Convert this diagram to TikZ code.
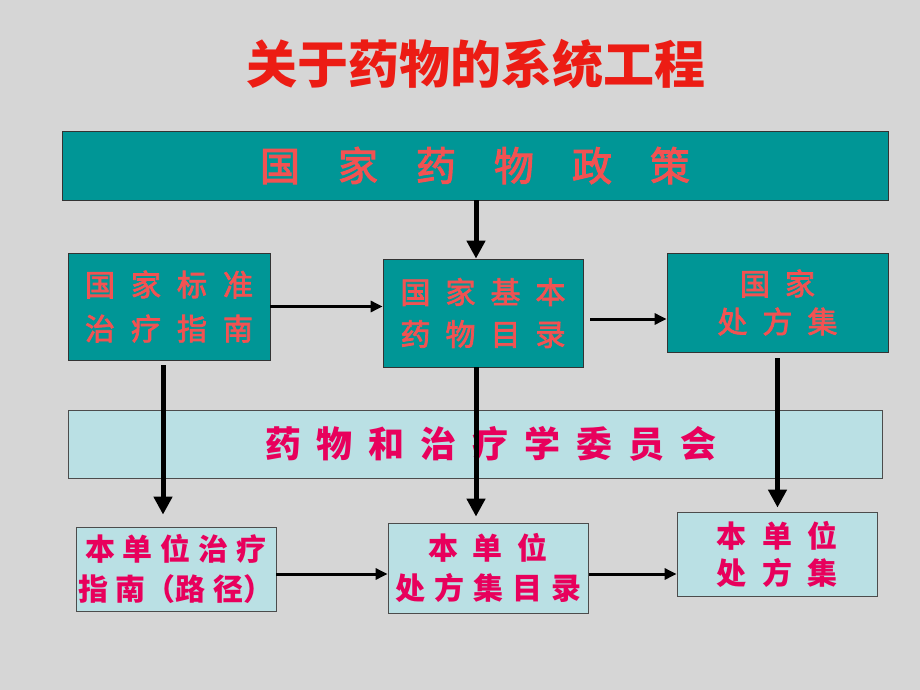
\documentclass[tikz,border=0pt]{standalone}
\usepackage{fontspec}
\newfontfamily\cjk{Noto Sans CJK SC}
\newfontfamily\cjkm{Noto Sans CJK SC}[FakeBold=2.5]
\usetikzlibrary{arrows.meta}
\definecolor{bgGray}{RGB}{214,214,214}
\definecolor{tealFill}{RGB}{0,150,150}
\definecolor{paleFill}{RGB}{186,224,228}
\definecolor{salmonRed}{RGB}{242,82,82}
\definecolor{deepPink}{RGB}{232,0,92}
\definecolor{titleRed}{RGB}{236,28,20}

\tikzset{
  tealbox/.style={draw=black!80, line width=0.8pt, fill=tealFill, text=salmonRed, inner sep=0pt, align=center},
  palebox/.style={draw=black!70, line width=0.8pt, fill=paleFill, text=deepPink, inner sep=0pt, align=center},
  varrow/.style={line width=5pt, -{Triangle[width=18pt,length=18pt]}},
  harrow/.style={line width=3pt, -{Triangle[width=11pt,length=12pt]}},
}

\begin{document}
\begin{tikzpicture}[x=1pt,y=-1pt]
\fill[bgGray] (0,0) rectangle (920,690);
\useasboundingbox (0,0) rectangle (920,690);
%
\node[text=titleRed, font=\cjk\bfseries\fontsize{51}{51}\selectfont] (title) at (476,64) {关于药物的系统工程};
%
\node[tealbox, minimum width=826pt, minimum height=69pt, font={\cjkm\fontsize{40}{48}\selectfont\spaceskip=38pt\relax}] (policy) at (475,165.5) {国 家 药 物 政 策};
\node[tealbox, minimum width=202pt, minimum height=107pt, font={\cjkm\fontsize{30}{44}\selectfont\spaceskip=16pt\relax}] (std) at (169,306.5) {国 家 标 准\\治 疗 指 南};
\node[tealbox, minimum width=200pt, minimum height=108pt, font={\cjkm\fontsize{30}{42}\selectfont\spaceskip=15pt\relax}] (ess) at (483,313) {国 家 基 本\\药 物 目 录};
\node[tealbox, minimum width=221pt, minimum height=99pt, font={\cjkm\fontsize{30}{38}\selectfont\spaceskip=15pt\relax}] (natf) at (777.5,302.5) {国 家\\处 方 集};
%
\node[palebox, minimum width=814pt, minimum height=68pt, font={\cjk\bfseries\fontsize{36}{40}\selectfont\spaceskip=16pt\relax}] (ctc) at (475,444) {\hspace*{32pt}药 物 和 治 疗 学 委 员 会};
%
\node[palebox, minimum width=200pt, minimum height=84pt, font={\cjk\bfseries\fontsize{30}{40}\selectfont\spaceskip=8pt\relax}] (bl) at (176,569) {本 单 位 治 疗\\指 南（路 径）};
\node[palebox, minimum width=200pt, minimum height=90pt, font={\cjk\bfseries\fontsize{30}{40}\selectfont\spaceskip=9pt\relax}] (bm) at (488,568) {本\hspace{15pt}单\hspace{15pt}位\\处 方 集 目 录};
\node[palebox, minimum width=200pt, minimum height=84pt, font={\cjk\bfseries\fontsize{30}{37}\selectfont\spaceskip=16pt\relax}] (br) at (777,554) {本 单 位\\处 方 集};
%
\draw[varrow] ([xshift=-7pt]ess.north |- policy.south) -- ([xshift=-7pt]ess.north);
\draw[varrow, shorten <=5pt, shorten >=12pt] ([xshift=-6pt]std.south) -- ([xshift=-6pt]std.south |- bl.north);
\draw[varrow, shorten >=6pt] ([xshift=-7pt]ess.south) -- ([xshift=-7pt]ess.south |- bm.north);
\draw[varrow, shorten <=6pt, shorten >=4pt] (natf.south) -- (natf.south |- br.north);
%
\draw[harrow] (std.east) -- (std.east -| ess.west);
\draw[harrow, shorten <=7pt] ([yshift=-6pt]ess.east) -- ([yshift=-6pt]ess.east -| natf.west);
\draw[harrow] ([yshift=-5pt]bl.east) -- ([yshift=-5pt]bl.east -| bm.west);
\draw[harrow, shorten <=1pt] ([yshift=-6pt]bm.east) -- ([yshift=-6pt]bm.east -| br.west);
\end{tikzpicture}
\end{document}
